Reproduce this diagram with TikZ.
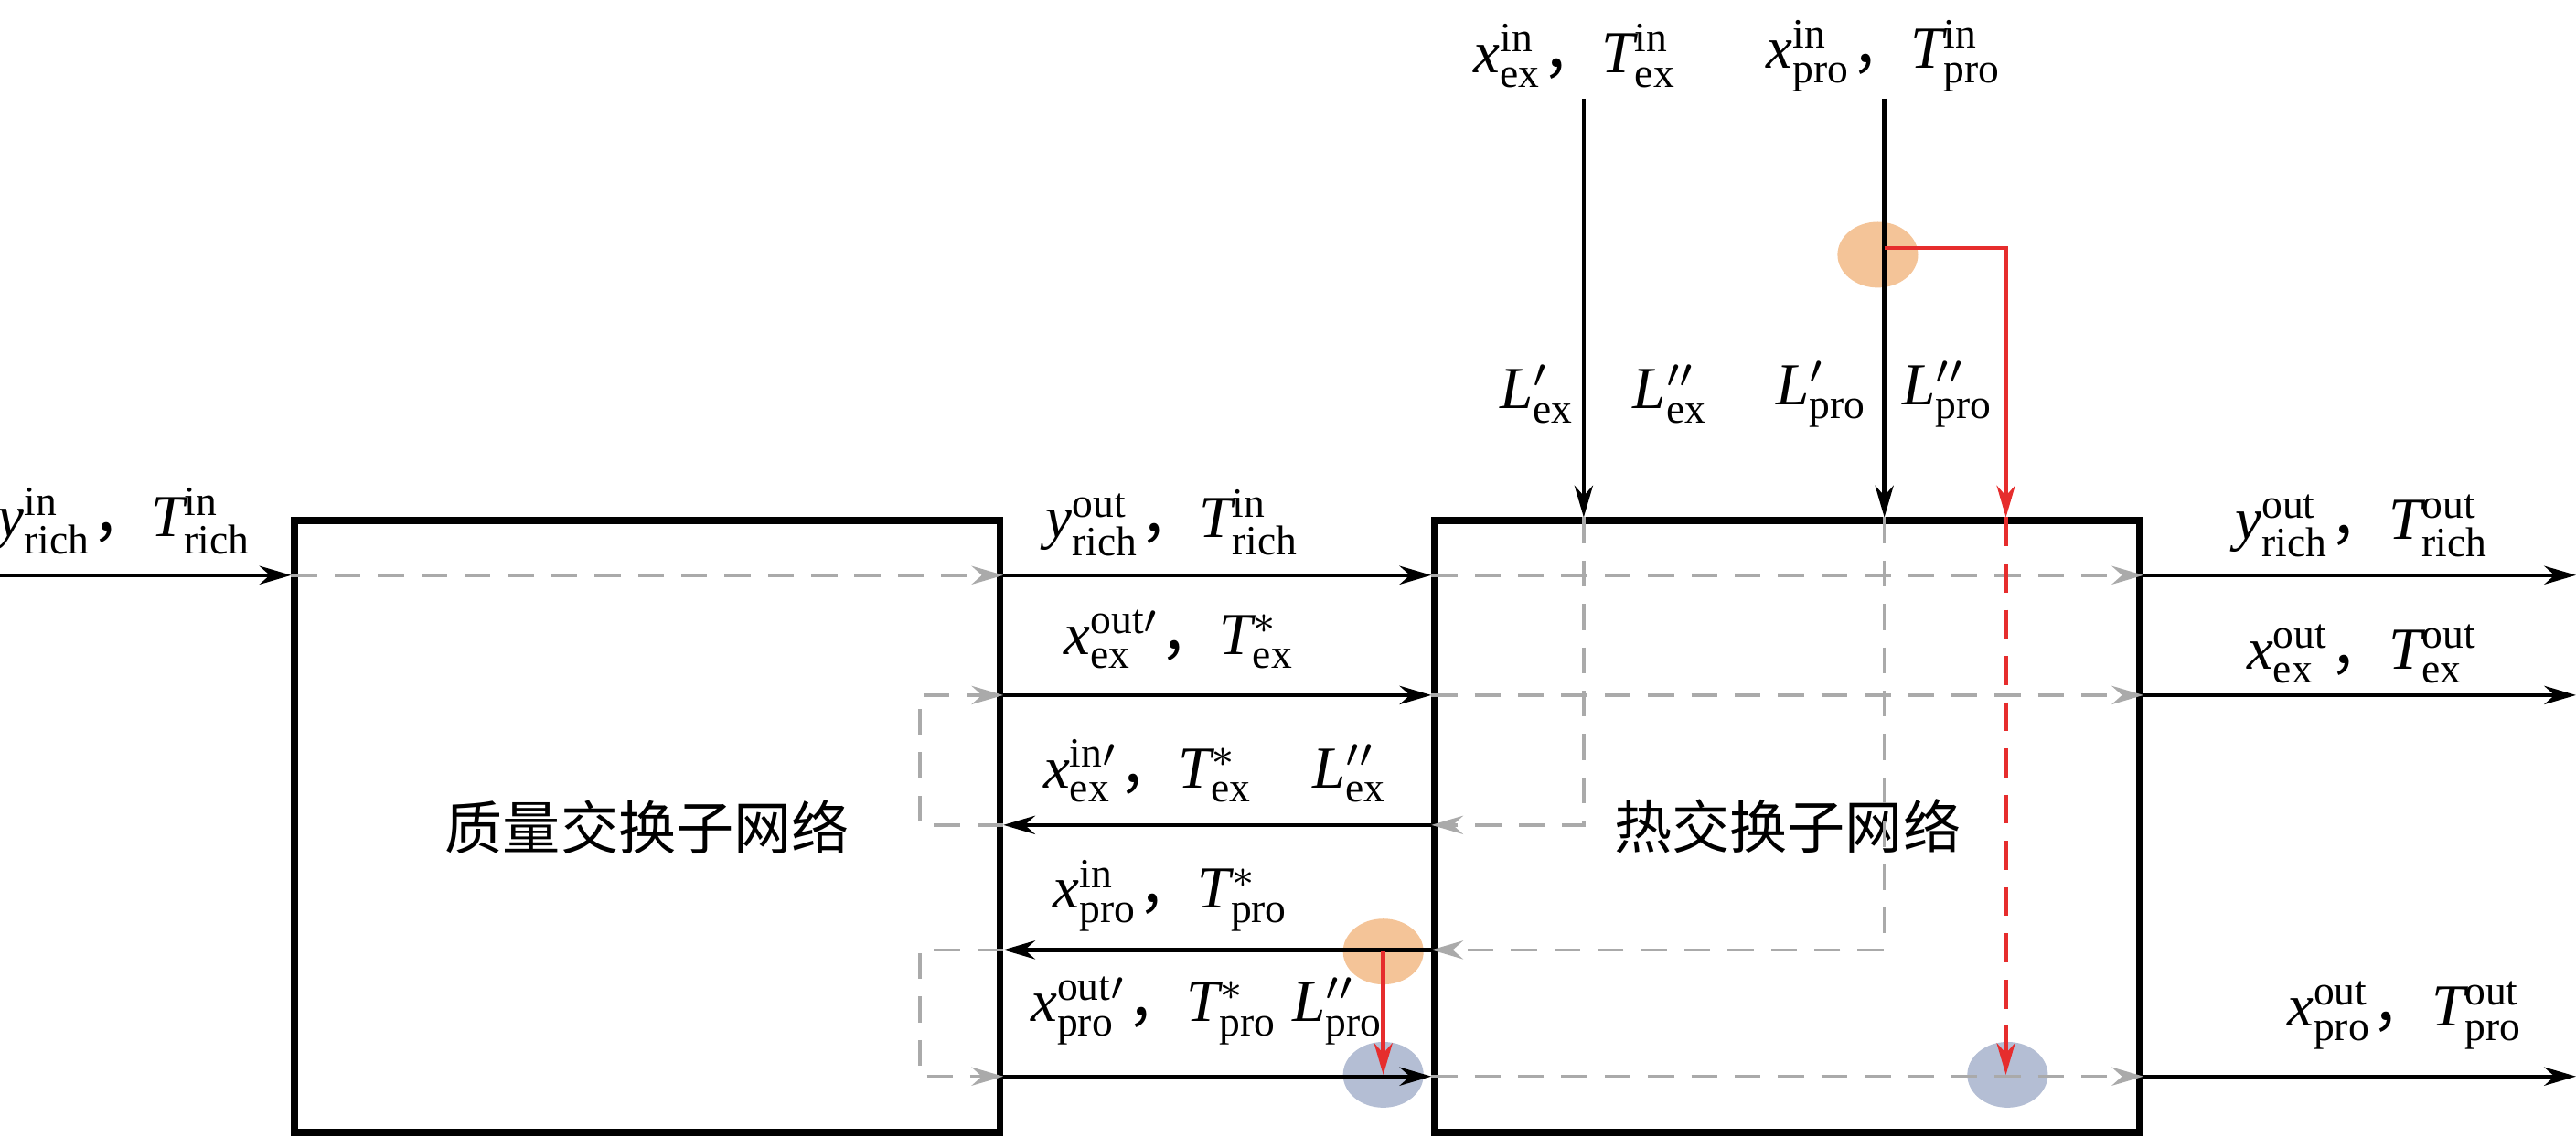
\documentclass[tikz,border=0pt]{standalone}
\usepackage{fontspec}
\setmainfont{Liberation Serif}
\newfontfamily\cjk{Noto Sans CJK SC}
\usetikzlibrary{arrows.meta,shapes.geometric}
\definecolor{ghostgray}{RGB}{170,170,170}
\definecolor{peach}{RGB}{244,196,152}
\definecolor{slate}{RGB}{180,190,212}
\definecolor{hotred}{RGB}{230,45,45}
\newcommand\dou{{\cjk ，}}
\newcommand\fq[3]{$\mathit{#1}^{\mathrm{#3}}_{\mathrm{#2}}$}
\begin{document}
\begin{tikzpicture}[x=.01cm,y=-.01cm,every node/.style={font=\fontsize{10.3}{12}\selectfont},
	box/.style={draw,line width=1.2pt,inner sep=0pt,minimum width=4.29cm,minimum height=3.72cm,font=\cjk\fontsize{10}{12}\selectfont},
	flow/.style={-{Stealth[length=5.5pt,width=3.2pt]},line width=.7pt},
	ghost/.style={flow,ghostgray,line width=.55pt,dash pattern=on 4.5pt off 3pt},
	hot/.style={flow,hotred},
	blob/.style={ellipse,inner sep=0pt,minimum width=.49cm,minimum height=.40cm}]
	\useasboundingbox(0,0)rectangle(1568,692);
	\coordinate(R1)at(0,350);
	\coordinate(R2)at(0,423);
	\coordinate(R3)at(0,502);
	\coordinate(R4)at(0,578);
	\coordinate(R5)at(0,655);
	\coordinate(E)at(1568,0);
	\coordinate(C1)at(964,60);
	\coordinate(C2)at(1147,60);
	\coordinate(Lp)at(560,0);
	\coordinate(Rk)at(1221,151);
	% blobs sit behind the streams
	\node[blob,fill=peach](o1)at(1143,155){};
	\node[blob,fill=peach](o2)at(842,579){};
	\node[blob,fill=slate](b1)at(1222,654){};
	\node[blob,fill=slate](b2)at(842,654){};
	\node[box](mass)at(394,503){质量交换子网络};
	\node[box](heat)at(1088,503){热交换子网络};
	% grey paths inside the networks
	\draw[ghost](mass.west|-R1)--(mass.east|-R1);
	\draw[ghost](mass.east|-R3)--(Lp|-R3)--(Lp|-R2)--(mass.east|-R2);
	\draw[ghost](mass.east|-R4)--(Lp|-R4)--(Lp|-R5)--(mass.east|-R5);
	\foreach\r in{R1,R2,R5}{\draw[ghost](heat.west|-\r)--(heat.east|-\r);}
	\draw[ghost](C1|-heat.north)|-(heat.west|-R3);
	\draw[ghost](C2|-heat.north)|-(heat.west|-R4);
	% streams
	\draw[flow](R1)--(mass.west|-R1);
	\draw[flow](mass.east|-R1)--(heat.west|-R1);
	\draw[flow](mass.east|-R2)--(heat.west|-R2);
	\draw[flow](heat.west|-R3)--(mass.east|-R3);
	\draw[flow](heat.west|-R4)--(mass.east|-R4);
	\draw[flow](mass.east|-R5)--(heat.west|-R5);
	\foreach\r in{R1,R2,R5}{\draw[flow](heat.east|-\r)--(E|-\r);}
	\foreach\c in{C1,C2}{\draw[flow](\c)--(\c|-heat.north);}
	% bypass
	\draw[hot](C2|-Rk)--(Rk)--(Rk|-heat.north);
	\draw[hot,dash pattern=on 5pt off 3pt](Rk|-heat.north)--(Rk|-b1.center);
	\draw[hot](o2.center)--(b2.center);
	% labels
	\node at(76,317){\fq{y}{rich}{in}\dou\fq{T}{rich}{in}};
	\node at(714,318){\fq{y}{rich}{out}\dou\fq{T}{rich}{in}};
	\node at(718,389){\fq{x}{ex}{out\prime}\dou\fq{T}{ex}{*}};
	\node at(740,469){\fq{x}{ex}{in\prime}\dou\fq{T}{ex}{*}\quad\fq{L}{ex}{\prime\prime}};
	\node at(713,545){\fq{x}{pro}{in}\dou\fq{T}{pro}{*}};
	\node at(735,615){\fq{x}{pro}{out\prime}\dou\fq{T}{pro}{*}\ \fq{L}{pro}{\prime\prime}};
	\node at(1438,320){\fq{y}{rich}{out}\dou\fq{T}{rich}{out}};
	\node at(1438,398){\fq{x}{ex}{out}\dou\fq{T}{ex}{out}};
	\node at(1464,618){\fq{x}{pro}{out}\dou\fq{T}{pro}{out}};
	\node at(959,34){\fq{x}{ex}{in}\dou\fq{T}{ex}{in}};
	\node at(1147,34){\fq{x}{pro}{in}\dou\fq{T}{pro}{in}};
	\node at(936,240){\fq{L}{ex}{\prime}};
	\node at(1017,240){\fq{L}{ex}{\prime\prime}};
	\node at(1109,240){\fq{L}{pro}{\prime}};
	\node at(1186,240){\fq{L}{pro}{\prime\prime}};
\end{tikzpicture}
\end{document}
